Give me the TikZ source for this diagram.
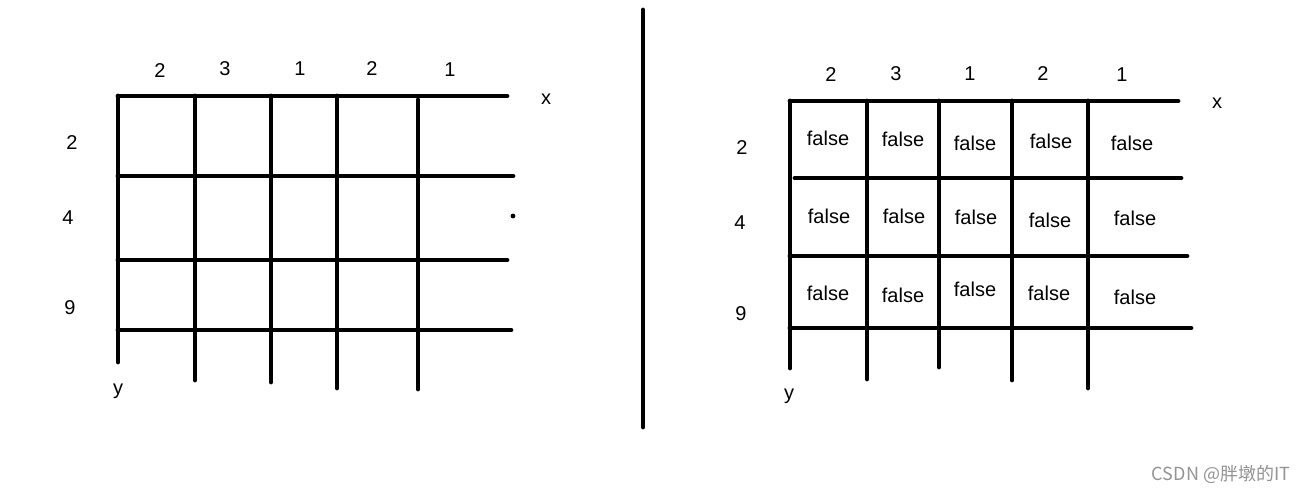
\documentclass[tikz,border=0pt]{standalone}
\usepackage{fontspec}
\setmainfont{Liberation Sans}
\newfontfamily\cjkfont{Noto Sans CJK SC}
\begin{document}
\begin{tikzpicture}[x=1pt,y=-1pt,
  gridline/.style={line width=4.8pt,line cap=round},
  lbl/.style={font=\fontsize{20}{20}\selectfont,inner sep=0pt},
  cell/.style={font=\fontsize{20}{20}\selectfont,inner sep=0pt}]
\useasboundingbox[fill=white] (0,0) rectangle (1309,494);
% left grid
\draw[gridline] (118,96) -- (507,96);
\draw[gridline] (118,176) -- (513,176);
\draw[gridline] (118,260) -- (507,260);
\draw[gridline] (118,330) -- (511,330);
\draw[gridline] (118,96) -- (118,362);
\draw[gridline] (195,96) -- (195,380);
\draw[gridline] (271,96) -- (271,382);
\draw[gridline] (337,96) -- (337,388);
\draw[gridline] (418,100) -- (418,389);
\fill (513,216) circle (2.4);
\node[lbl] (lt1) at (160,71) {2};
\node[lbl] (lt2) at (225,69) {3};
\node[lbl] (lt3) at (300,69) {1};
\node[lbl] (lt4) at (372,69) {2};
\node[lbl] (lt5) at (450,70) {1};
\node[lbl] (ll1) at (72,143) {2};
\node[lbl] (ll2) at (68,218) {4};
\node[lbl] (ll3) at (70,308) {9};
\node[lbl] (ly) at (118,391) {y};
\node[lbl] (lx) at (546,99) {x};
% divider
\draw[gridline] (643,10) -- (643,427);
% right grid
\draw[gridline] (790,101) -- (1178,101);
\draw[gridline] (795,178) -- (1181,178);
\draw[gridline] (790,256) -- (1187,256);
\draw[gridline] (790,328) -- (1191,328);
\draw[gridline] (790,101) -- (790,368);
\draw[gridline] (867,101) -- (867,379);
\draw[gridline] (939,101) -- (939,367);
\draw[gridline] (1012,101) -- (1012,380);
\draw[gridline] (1088,101) -- (1088,388);
\node[lbl] (rt1) at (831,75) {2};
\node[lbl] (rt2) at (896,74) {3};
\node[lbl] (rt3) at (970,74) {1};
\node[lbl] (rt4) at (1043,74) {2};
\node[lbl] (rt5) at (1122,75) {1};
\node[lbl] (rl1) at (742,148) {2};
\node[lbl] (rl2) at (740,223) {4};
\node[lbl] (rl3) at (741,314) {9};
\node[lbl] (ry) at (789,396) {y};
\node[lbl] (rx) at (1217,103) {x};
\foreach \n/\x/\y in {a1/828/138,a2/903/139,a3/975/143,a4/1051/141,a5/1132/143,
  b1/829/216,b2/904/216,b3/976/217,b4/1050/220,b5/1135/218,
  c1/828/293,c2/903/295,c3/975/289,c4/1049/293,c5/1135/297}
  \node[cell] (\n) at (\x,\y) {false};
% watermark
\node[font=\cjkfont\fontsize{18}{18}\selectfont,text=black!42,inner sep=0pt] (wm) at (1221,474) {CSDN @胖墩的IT};
\end{tikzpicture}
\end{document}
